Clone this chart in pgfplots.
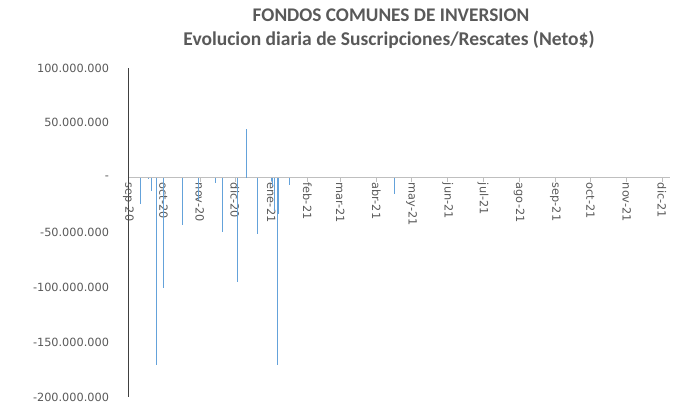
\documentclass[border=0pt]{standalone}
\usepackage{pgfplots}
\pgfplotsset{compat=1.18}
\usepackage{fontspec}
\setmainfont{DejaVu Sans}
\newfontfamily\titlefont{Carlito}
\definecolor{barblue}{RGB}{100,162,218}
\definecolor{txtgray}{RGB}{89,89,89}
\definecolor{axgray}{RGB}{191,191,191}
\begin{document}
\begin{tikzpicture}
\path[use as bounding box] (0,0) rectangle (692bp,419bp);
\begin{axis}[
  at={(128.5bp,22bp)}, anchor=south west,
  scale only axis, width=541.5bp, height=329bp,
  xmin=0, xmax=463, ymin=-200000000, ymax=100000000,
  axis y line*=left, axis x line*=middle,
  hide obscured x ticks=false,
  scaled y ticks=false,
  y axis line style={draw=black!75, line width=1.2bp},
  x axis line style={draw=axgray, line width=0.8bp},
  xtick={0,30,61,91,122,153,181,212,242,273,303,334,365,395,426,456},
  xticklabels={sep-20,oct-20,nov-20,dic-20,ene-21,feb-21,mar-21,abr-21,may-21,jun-21,jul-21,ago-21,sep-21,oct-21,nov-21,dic-21},
  xtick style={draw=axgray, line width=0.6bp},
  tick align=outside, major tick length=4bp,
  ytick={-200000000,-150000000,-100000000,-50000000,0,50000000,100000000},
  yticklabels={-200.000.000,-150.000.000,-100.000.000,-50.000.000,-\hspace{6bp},50.000.000,100.000.000},
  ytick style={draw=none},
  xticklabel style={rotate=-90, anchor=west, inner sep=1bp, font=\fontsize{11.3bp}{13bp}\selectfont, text=txtgray},
  yticklabel style={font=\fontsize{11.3bp}{13bp}\selectfont, text=txtgray, xshift=-12bp},
  clip=false,
]
\addplot[ycomb, barblue, line width=0.9bp, mark=none] coordinates {
(10,-24000000) (17,-1500000) (20,-12000000) (24,-171000000) (30,-101000000)
(46,-43000000) (60,-20000000) (74,-5000000) (80,-50000000) (93,-95500000)
(101,44500000) (110,-51000000) (122,-3000000) (123,-8000000) (125,-30000000)
(127,-171000000) (128,-33000000) (138,-6500000) (227,-15000000)
};
\end{axis}
\node[text=txtgray, font=\titlefont\bfseries\fontsize{19.3bp}{21bp}\selectfont] at (391bp,404bp) {FONDOS COMUNES DE INVERSION};
\node[text=txtgray, font=\titlefont\bfseries\fontsize{19.5bp}{21bp}\selectfont] at (389bp,379bp) {Evolucion diaria de Suscripciones/Rescates (Neto\$)};
\end{tikzpicture}
\end{document}
